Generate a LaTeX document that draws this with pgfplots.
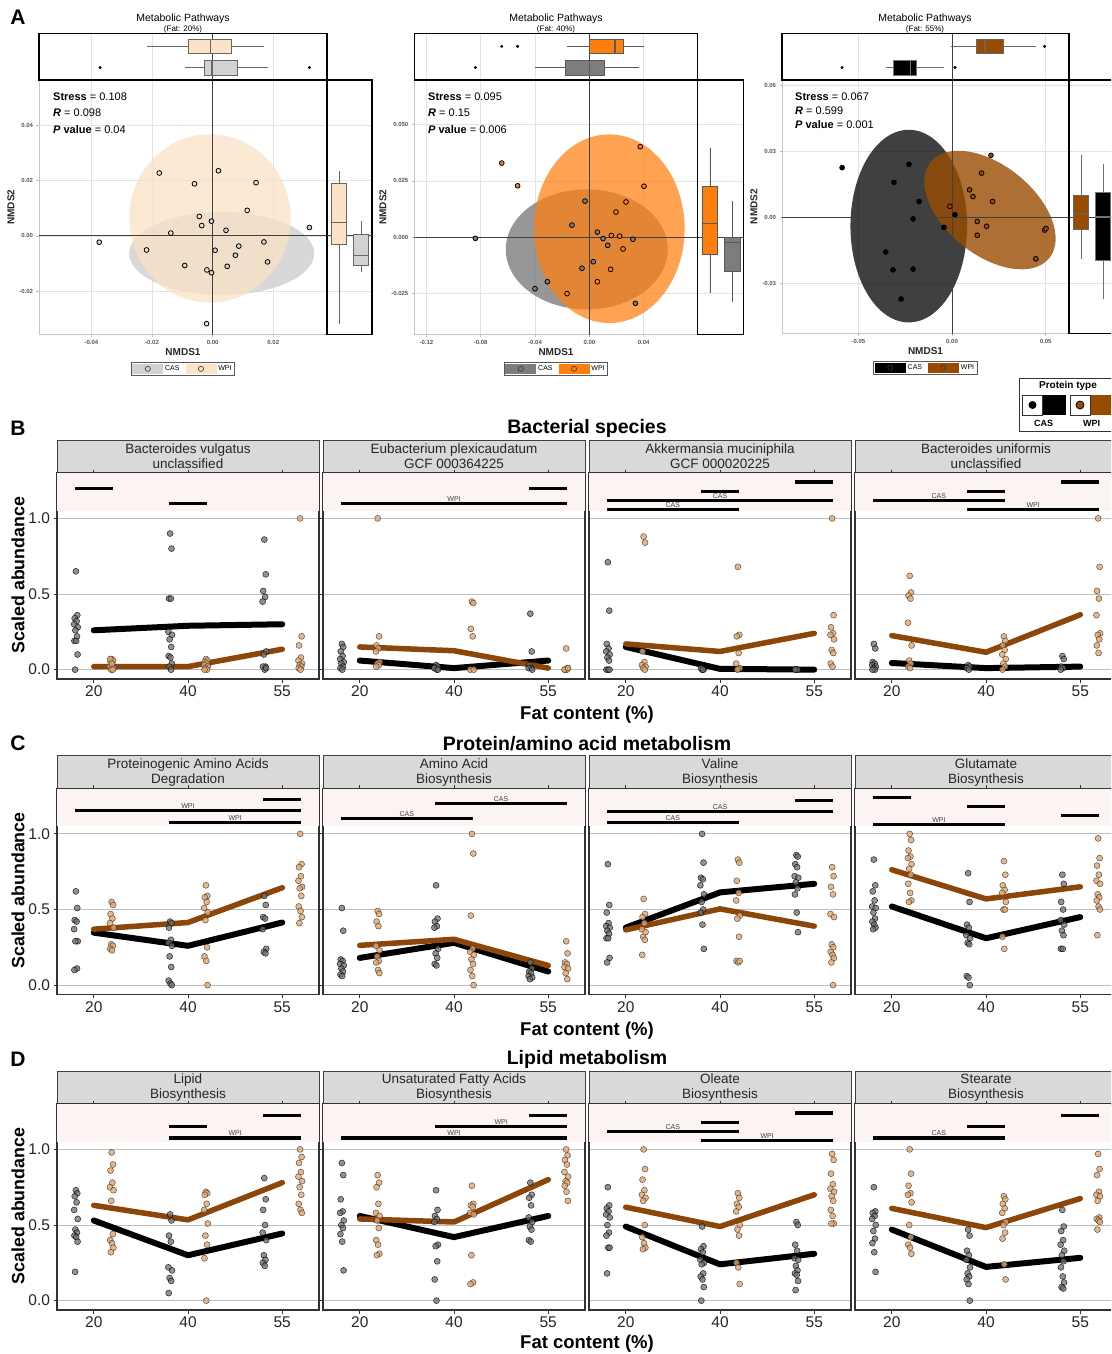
\documentclass[border=0pt]{standalone}
\usepackage{fontspec}
\setmainfont{Liberation Sans}
\usepackage{pgfplots}
\pgfplotsset{compat=1.18}
\usepgfplotslibrary{statistics}
\definecolor{casgrey}{RGB}{110,110,110}
\definecolor{wpitan}{RGB}{228,165,105}
\definecolor{wpiline}{RGB}{140,70,10}
\definecolor{pinkbg}{RGB}{252,243,243}
\definecolor{stripbg}{RGB}{217,217,217}
\definecolor{a1wpi}{RGB}{252,226,198}
\definecolor{a1cas}{RGB}{210,210,210}
\definecolor{a2wpi}{RGB}{255,127,14}
\definecolor{a2cas}{RGB}{125,125,125}
\definecolor{a3wpi}{RGB}{153,76,0}
\newcommand{\fs}[1]{\fontsize{#1}{#1}\selectfont}
\pgfplotsset{
 facet/.style={scale only axis, width=262pt, height=206pt, anchor=north west,
  xmin=0.61, xmax=3.39, ymin=-0.062, ymax=1.30,
  xtick={1,2,3}, xticklabels={20,40,55}, ytick={0,0.5,1}, yticklabels={0.0,0.5,1.0},
  ymajorgrids, major grid style={gray!50, line width=0.9pt},
  axis line style={black!80, line width=1.4pt},
  xtick style={black!80, line width=0.9pt}, ytick style={black!80, line width=0.9pt},
  tick align=outside, major tick length=3.5pt,
  tick label style={font=\fs{15.5}, text=black!85}, clip=false},
 noylab/.style={yticklabels={}, ytick style={draw=none}},
 casL/.style={black, line width=6pt, line cap=round, line join=round},
 wpiL/.style={wpiline, line width=5.5pt, line cap=round, line join=round},
 casP/.style={only marks, mark=*, mark size=3pt, mark options={fill=casgrey, fill opacity=0.75, draw=black, draw opacity=0.8, line width=0.5pt}},
 wpiP/.style={only marks, mark=*, mark size=3pt, mark options={fill=wpitan, fill opacity=0.8, draw=black!80, draw opacity=0.8, line width=0.5pt}},
 sig/.style={black, line width=3.2pt},
 nmds/.style={scale only axis, anchor=north west, axis line style={gray!45, line width=0.8pt},
  scaled x ticks=false, scaled y ticks=false,
  xmajorgrids, ymajorgrids, major grid style={gray!22, line width=0.6pt},
  tick style={gray!55, line width=0.6pt}, tick align=outside, major tick length=2.5pt,
  tick label style={font=\fs{6}\bfseries, text=black!65},
  label style={font=\fs{10}\bfseries, text=black!85},
  xlabel={NMDS1}, ylabel={NMDS2}, xlabel style={yshift=3pt}, ylabel style={yshift=-2pt},
  legend style={at={(0.5,-0.109)}, anchor=north, legend columns=2, draw=black!65, line width=0.8pt, font=\fs{7}, inner sep=1.2pt, /tikz/every even column/.append style={column sep=4pt}},
  legend cell align=left},
 pA/.style={only marks, mark=*, mark size=2.4pt, mark options={draw=black, line width=0.8pt, fill=#1}, forget plot},
 mtop/.style={scale only axis, anchor=north west, height=46.3pt, ymin=0.41, ymax=2.6, ytick=\empty, xticklabels={},
  scaled x ticks=false, scaled y ticks=false,
  xmajorgrids, major grid style={gray!22, line width=0.6pt}, tick style={draw=none},
  axis line style={black, line width=1.3pt}, boxplot/draw direction=x, clip=false},
 mright/.style={scale only axis, anchor=north west, xmin=0.45, xmax=2.5, xtick=\empty, yticklabels={},
  scaled x ticks=false, scaled y ticks=false,
  ymajorgrids, major grid style={gray!22, line width=0.6pt}, tick style={draw=none},
  axis line style={black, line width=1.3pt}, boxplot/draw direction=y, clip=false},
}
\tikzset{strip/.style={draw=black!75, line width=1pt, fill=stripbg, minimum width=262pt, minimum height=33pt, inner sep=0pt, align=center, font=\fontsize{13.5}{15}\selectfont, text=black!85},
 siglab/.style={font=\fs{7}, text=black!75, inner sep=0pt}}
\newcommand{\pink}{\fill[pinkbg] (axis cs:0.61,1.05) rectangle (axis cs:3.39,1.30);}
\newcommand{\sbar}[3]{\addplot[sig] coordinates {(#1,#3)(#2,#3)};}
\newcommand{\slab}[3]{\node[siglab] at (axis cs:#1,#2) {#3};}
\newcommand{\bp}[8]{\addplot[fill=#1, draw=#2, line width=0.6pt, boxplot prepared={draw position=#3, lower whisker=#4, lower quartile=#5, median=#6, upper quartile=#7, upper whisker=#8, box extend=0.7, whisker extend=0, every median/.style={line width=1.3pt}}] coordinates {};}
\newcommand{\lgimg}[2]{\addlegendimage{legend image code/.code={\fill[#1] (0pt,-4.5pt) rectangle (30pt,4.5pt); \draw[black!80, line width=0.6pt, fill=#2] (15pt,0pt) circle (2.6pt);}}}
\newcommand{\outl}[1]{\addplot[only marks, mark=*, mark size=1.3pt, black] coordinates {#1};}
\begin{document}
\begin{tikzpicture}
\useasboundingbox (0,0) rectangle (1111pt,-1354pt);
\clip (0,0) rectangle (1111pt,-1354pt);
\fill[white] (0,0) rectangle (1111pt,-1354pt);

% ================= PANEL A =================
% ---- A1 ----
\begin{axis}[nmds, at={(39pt,-80pt)}, width=288pt, height=254.3pt, xmin=-0.05726, xmax=0.0377, ymin=-0.03554, ymax=0.05626,
 xtick={-0.04,-0.02,0,0.02}, xticklabels={-0.04,-0.02,0.00,0.02}, ytick={-0.02,0,0.02,0.04}, yticklabels={-0.02,0.00,0.02,0.04}]
\fill[a1cas, fill opacity=0.85] (axis cs:0.00298,-0.00637) ellipse [x radius=92.5pt, y radius=41.5pt];
\fill[a1wpi, fill opacity=0.75] (axis cs:-0.00088,0.00628) ellipse [x radius=80.7pt, y radius=84.2pt];
\draw[black!75, line width=0.8pt] (axis cs:-0.1,0) -- (axis cs:0.1,0);
\draw[black!75, line width=0.8pt] (axis cs:0,-0.1) -- (axis cs:0,0.1);
\addplot[pA=a1cas] coordinates {(-0.0374,-0.0023)(0.0319,0.0030)(-0.0092,-0.0107)(0.0048,-0.0110)(0.0008,-0.0052)(0.0086,-0.0037)(0.0169,-0.0022)(0.0075,-0.0070)(0.0181,-0.0094)(-0.0004,-0.0133)(0.0044,0.0020)(-0.0004,0.0053)};
\addplot[pA=a1wpi] coordinates {(-0.0176,0.0227)(0.0019,0.0235)(-0.006,0.0188)(0.0143,0.0192)(0.0114,0.0092)(-0.0044,0.0070)(-0.0036,0.0037)(-0.0138,0.0010)(-0.0218,-0.0051)(-0.0019,-0.0123)(-0.002,-0.0317)};
\lgimg{a1cas}{a1cas}\addlegendentry{CAS}
\lgimg{a1wpi}{a1wpi}\addlegendentry{WPI}
\end{axis}
\begin{axis}[mtop, at={(39pt,-33.7pt)}, width=288pt, xmin=-0.05726, xmax=0.0377, xtick={-0.04,-0.02,0,0.02}]
\draw[black!75, line width=0.8pt] (axis cs:0,0.41) -- (axis cs:0,2.6);
\bp{a1wpi}{black!60}{2}{-0.0218}{-0.0079}{-0.0007}{0.0063}{0.0169}
\bp{a1cas}{black!60}{1}{-0.0091}{-0.0029}{-0.0002}{0.0081}{0.0181}
\outl{(-0.0371,1)(0.0319,1)}
\end{axis}
\begin{axis}[mright, at={(327pt,-80pt)}, width=45pt, height=254.3pt, ymin=-0.03554, ymax=0.05626, ytick={-0.02,0,0.02,0.04}]
\draw[black!75, line width=0.8pt] (axis cs:0.45,0) -- (axis cs:2.5,0);
\bp{a1wpi}{black!60}{1}{-0.0317}{-0.0029}{0.0047}{0.0189}{0.0234}
\bp{a1cas}{black!60}{2}{-0.013}{-0.0108}{-0.007}{0.0004}{0.0053}
\end{axis}

% ---- A2 ----
\begin{axis}[nmds, at={(414.3pt,-80pt)}, width=283.4pt, height=254.3pt, xmin=-0.1289, xmax=0.0798, ymin=-0.0433, ymax=0.0699,
 xtick={-0.12,-0.08,-0.04,0,0.04}, xticklabels={-0.12,-0.08,-0.04,0.00,0.04}, ytick={-0.025,0,0.025,0.05}, yticklabels={-0.025,0.000,0.025,0.050}]
\fill[a2cas, fill opacity=0.8] (axis cs:-0.0019,-0.0055) ellipse [x radius=81pt, y radius=60pt];
\fill[a2wpi, fill opacity=0.72] (axis cs:0.0147,0.0037) ellipse [x radius=75.3pt, y radius=94.3pt];
\draw[black!75, line width=0.8pt] (axis cs:-0.2,0) -- (axis cs:0.2,0);
\draw[black!75, line width=0.8pt] (axis cs:0,-0.1) -- (axis cs:0,0.1);
\addplot[pA=a2cas] coordinates {(-0.0839,-0.0006)(-0.0032,0.016)(-0.0128,0.0053)(0.0059,0.0022)(0.0101,-0.0007)(0.0321,-0.0010)(0.0135,-0.0037)(0.0029,-0.011)(-0.0054,-0.0139)(-0.0309,-0.0199)(-0.04,-0.023)(0.0339,-0.0295)};
\addplot[pA=a2wpi] coordinates {(-0.0645,0.0329)(-0.0528,0.0228)(0.0375,0.0402)(0.0402,0.0226)(0.027,0.0156)(0.0196,0.0111)(0.0162,0.0007)(0.0248,-0.0053)(0.0059,-0.0199)(0.0157,-0.0144)(-0.0164,-0.0252)(0.0223,0.0004)};
\lgimg{a2cas}{a2cas}\addlegendentry{CAS}
\lgimg{a2wpi}{a2wpi}\addlegendentry{WPI}
\end{axis}
\begin{axis}[mtop, at={(414.3pt,-33.7pt)}, width=283.4pt, xmin=-0.1289, xmax=0.0798, xtick={-0.12,-0.08,-0.04,0,0.04}]
\draw[black!75, line width=0.8pt] (axis cs:0,0.41) -- (axis cs:0,2.6);
\bp{a2wpi}{black!65}{2}{-0.0162}{0.0002}{0.0189}{0.0253}{0.0403}
\bp{a2cas}{black!65}{1}{-0.040}{-0.0174}{0.0003}{0.0110}{0.0364}
\outl{(-0.0645,2)(-0.0528,2)(-0.0839,1)}
\end{axis}
\begin{axis}[mright, at={(697.7pt,-80pt)}, width=45.6pt, height=254.3pt, ymin=-0.0433, ymax=0.0699, ytick={-0.025,0,0.025,0.05}]
\draw[black!75, line width=0.8pt] (axis cs:0.45,0) -- (axis cs:2.5,0);
\bp{a2wpi}{black!65}{1}{-0.0251}{-0.0077}{0.0059}{0.0226}{0.0396}
\bp{a2cas}{black!65}{2}{-0.0291}{-0.0154}{-0.0024}{0.0}{0.0159}
\end{axis}

% ---- A3 ----
\begin{axis}[nmds, at={(782pt,-80pt)}, width=287pt, height=253.3pt, xmin=-0.0908, xmax=0.0625, ymin=-0.0529, ymax=0.0624,
 xtick={-0.05,0,0.05}, xticklabels={-0.05,0.00,0.05}, ytick={-0.03,0,0.03,0.06}, yticklabels={-0.03,0.00,0.03,0.06}]
\fill[black, fill opacity=0.75] (axis cs:-0.0231,-0.0041) ellipse [x radius=58.3pt, y radius=96.3pt];
\fill[a3wpi, fill opacity=0.8, rotate around={-39:(axis cs:0.0203,0.0032)}] (axis cs:0.0203,0.0032) ellipse [x radius=76.3pt, y radius=44.7pt];
\draw[black!75, line width=0.8pt] (axis cs:-0.2,0) -- (axis cs:0.2,0);
\draw[black!75, line width=0.8pt] (axis cs:0,-0.1) -- (axis cs:0,0.1);
\addplot[pA=black] coordinates {(-0.0587,0.0225)(-0.023,0.024)(-0.031,0.0158)(-0.0176,0.0071)(-0.0208,-0.0008)(-0.0043,-0.0047)(0.0016,0.0011)(-0.0354,-0.0159)(-0.0315,-0.024)(-0.0208,-0.0237)(-0.0272,-0.0373)};
\addplot[pA=a3wpi] coordinates {(0.0208,0.0281)(0.0158,0.02)(0.0094,0.0124)(0.0112,0.0093)(0.0217,0.0071)(-0.0011,0.0049)(0.0135,-0.002)(0.0185,-0.0042)(0.0135,-0.0083)(0.0495,-0.0059)(0.0502,-0.0052)(0.0448,-0.019)};
\lgimg{black}{black}\addlegendentry{CAS}
\lgimg{a3wpi}{a3wpi}\addlegendentry{WPI}
\end{axis}
\begin{axis}[mtop, at={(782pt,-33.7pt)}, width=287pt, xmin=-0.0908, xmax=0.0625, xtick={-0.05,0,0.05}]
\draw[black!75, line width=0.8pt] (axis cs:0,0.41) -- (axis cs:0,2.6);
\bp{a3wpi}{black!60}{2}{-0.0007}{0.013}{0.0176}{0.0276}{0.0448}
\bp{black}{black!55}{1}{-0.0352}{-0.0313}{-0.0222}{-0.0192}{-0.0044}
\outl{(0.0495,2)(-0.0587,1)(0.0016,1)}
\end{axis}
\begin{axis}[mright, at={(1069pt,-80pt)}, width=45pt, height=253.3pt, ymin=-0.0529, ymax=0.0624, ytick={-0.03,0,0.03,0.06}]
\draw[black!75, line width=0.8pt] (axis cs:0.45,0) -- (axis cs:2.5,0);
\bp{a3wpi}{black!60}{1}{-0.019}{-0.0056}{0.0017}{0.01}{0.0281}
\bp{black}{black!55}{2}{-0.0373}{-0.0196}{0.0}{0.0112}{0.024}
\end{axis}

% A texts
\node[font=\fs{21}\bfseries] at (18pt,-17pt) {A};
\node[font=\fs{10.5}] at (183pt,-19pt) {Metabolic Pathways};
\node[font=\fs{8}] at (183pt,-29.5pt) {(Fat: 20\%)};
\node[font=\fs{10.5}] at (556pt,-19pt) {Metabolic Pathways};
\node[font=\fs{8}] at (556pt,-29.5pt) {(Fat: 40\%)};
\node[font=\fs{10.5}] at (925pt,-19pt) {Metabolic Pathways};
\node[font=\fs{8}] at (925pt,-29.5pt) {(Fat: 55\%)};
\begin{scope}[every node/.style={anchor=west, font=\fs{11}, inner sep=0pt}]
\node at (53pt,-97pt) {\textbf{Stress} = 0.108};
\node at (53pt,-113pt) {\textbf{\textit{R}} = 0.098};
\node at (53pt,-129.5pt) {\textbf{\textit{P} value} = 0.04};
\node at (428pt,-97pt) {\textbf{Stress} = 0.095};
\node at (428pt,-113pt) {\textbf{\textit{R}} = 0.15};
\node at (428pt,-129.5pt) {\textbf{\textit{P} value} = 0.006};
\node at (795pt,-97pt) {\textbf{Stress} = 0.067};
\node at (795pt,-111pt) {\textbf{\textit{R}} = 0.599};
\node at (795pt,-125pt) {\textbf{\textit{P} value} = 0.001};
\end{scope}
% Protein type legend
\draw[black!80, line width=1pt] (1019pt,-378pt) rectangle (1130pt,-431pt);
\node[font=\fs{10}\bfseries] at (1068pt,-385.5pt) {Protein type};
\fill[black] (1042.5pt,-395pt) rectangle (1065.5pt,-415pt);
\draw[black!80, fill=white, line width=0.8pt] (1022.5pt,-395pt) rectangle (1042.5pt,-415pt);
\fill[black] (1032.5pt,-405pt) circle (4pt);
\fill[a3wpi] (1090pt,-395pt) rectangle (1125pt,-415pt);
\draw[black!80, fill=white, line width=0.8pt] (1070pt,-395pt) rectangle (1090pt,-415pt);
\draw[black, fill=a3wpi, line width=0.8pt] (1080pt,-405pt) circle (4pt);
\node[font=\fs{9}\bfseries] at (1043.5pt,-423.5pt) {CAS};
\node[font=\fs{9}\bfseries] at (1091.7pt,-423.5pt) {WPI};

% ================= PANEL B =================
\node[font=\fs{21}\bfseries] at (18pt,-428pt) {B};
\node[font=\fs{19.5}\bfseries] at (587pt,-428pt) {Bacterial species};
\node[font=\fs{17.8}\bfseries, rotate=90] at (18pt,-575pt) {Scaled abundance};
\node[font=\fs{18.5}\bfseries] at (587pt,-715pt) {Fat content (\%)};
\node[strip] at (188pt,-456.5pt) {Bacteroides vulgatus\\unclassified};
\node[strip] at (454pt,-456.5pt) {Eubacterium plexicaudatum\\GCF 000364225};
\node[strip] at (720pt,-456.5pt) {Akkermansia muciniphila\\GCF 000020225};
\node[strip] at (986pt,-456.5pt) {Bacteroides uniformis\\unclassified};

\begin{axis}[facet, at={(57pt,-473pt)}]
\pink
\addplot[casL] coordinates {(1,.26)(2,.29)(3,.30)};
\addplot[wpiL] coordinates {(1,.02)(2,.02)(3,.135)};
\addplot[casP] coordinates {(.810,.65)(.825,.36)(.798,.34)(.818,.32)(.792,.30)(.830,.28)(.805,.26)(.822,.22)(.795,.19)(.814,.19)(.828,.10)(.802,0)
(1.810,.90)(1.825,.80)(1.798,.47)(1.818,.47)(1.792,.25)(1.830,.23)(1.805,.20)(1.822,.15)(1.795,.09)(1.814,.08)(1.828,.04)(1.802,.02)(1.820,0)
(2.810,.86)(2.825,.63)(2.798,.52)(2.818,.48)(2.792,.45)(2.830,.12)(2.805,.10)(2.822,.02)(2.795,.02)(2.814,0)(2.828,.01)};
\addplot[wpiP] coordinates {(1.190,.07)(1.205,.06)(1.178,.05)(1.198,.03)(1.172,.02)(1.210,.01)(1.185,0)(1.202,0)(1.175,.07)(1.194,.04)
(2.190,.07)(2.205,.06)(2.178,.05)(2.198,.04)(2.172,.03)(2.210,.02)(2.185,.01)(2.202,0)(2.175,0)
(3.190,1)(3.205,.22)(3.178,.16)(3.198,.08)(3.172,.06)(3.210,.04)(3.185,.03)(3.202,.02)(3.175,.01)(3.194,0)};
\sbar{0.8}{1.2}{1.2}\sbar{1.8}{2.2}{1.1}
\end{axis}
\begin{axis}[facet, noylab, at={(323pt,-473pt)}]
\pink
\addplot[casL] coordinates {(1,.06)(2,.01)(3,.06)};
\addplot[wpiL] coordinates {(1,.15)(2,.125)(3,.01)};
\addplot[casP] coordinates {(.810,.17)(.825,.15)(.798,.12)(.818,.09)(.792,.07)(.830,.05)(.805,.04)(.822,.02)(.795,.01)(.814,0)
(1.810,.03)(1.825,.02)(1.798,.01)(1.818,0)(1.792,.01)(1.830,0)
(2.810,.37)(2.825,.12)(2.798,.03)(2.818,.01)(2.792,.01)(2.830,0)};
\addplot[wpiP] coordinates {(1.190,1)(1.205,.22)(1.178,.16)(1.198,.14)(1.172,.12)(1.210,.05)(1.185,.04)(1.202,.03)(1.175,.02)
(2.190,.45)(2.205,.44)(2.178,.27)(2.198,.22)(2.172,0)(2.210,0)
(3.190,.14)(3.205,.01)(3.178,0)(3.198,0)(3.172,0)(3.210,.01)};
\sbar{0.8}{3.2}{1.1}\slab{2}{1.13}{WPI}\sbar{2.8}{3.2}{1.2}
\end{axis}
\begin{axis}[facet, noylab, at={(589pt,-473pt)}]
\pink
\addplot[casL] coordinates {(1,.15)(2,.005)(3,0)};
\addplot[wpiL] coordinates {(1,.17)(2,.12)(3,.24)};
\addplot[casP] coordinates {(.810,.71)(.825,.39)(.798,.17)(.818,.14)(.792,.12)(.830,.10)(.805,.08)(.822,.06)(.795,0)(.814,0)(.828,0)
(1.810,0)(1.825,0)(1.798,.01)(1.818,0)
(2.810,0)(2.825,0)(2.798,0)};
\addplot[wpiP] coordinates {(1.190,.88)(1.205,.84)(1.178,.12)(1.198,.05)(1.172,.03)(1.210,.02)(1.185,.01)(1.202,0)
(2.190,.68)(2.205,.23)(2.178,.22)(2.198,.11)(2.172,.04)(2.210,.01)(2.185,0)
(3.190,1)(3.205,.36)(3.178,.28)(3.198,.24)(3.172,.23)(3.210,.20)(3.185,.13)(3.202,.11)(3.175,.04)(3.194,.02)};
\sbar{2.8}{3.2}{1.24}\sbar{1.8}{2.2}{1.18}\sbar{0.8}{3.2}{1.12}\slab{2}{1.15}{CAS}\sbar{0.8}{2.2}{1.06}\slab{1.5}{1.09}{CAS}
\end{axis}
\begin{axis}[facet, noylab, at={(855pt,-473pt)}]
\pink
\addplot[casL] coordinates {(1,.044)(2,.01)(3,.02)};
\addplot[wpiL] coordinates {(1,.225)(2,.115)(3,.363)};
\addplot[casP] coordinates {(.810,.17)(.825,.14)(.798,.05)(.818,.04)(.792,.03)(.830,.02)(.805,.01)(.822,0)(.795,0)
(1.810,.03)(1.825,.02)(1.798,.01)(1.818,0)
(2.810,.09)(2.825,.07)(2.798,.02)(2.818,.01)(2.792,0)};
\addplot[wpiP] coordinates {(1.190,.62)(1.205,.51)(1.178,.49)(1.198,.47)(1.172,.31)(1.210,.16)(1.185,.06)(1.202,.04)(1.175,.02)(1.194,.01)
(2.190,.22)(2.205,.19)(2.178,.16)(2.198,.13)(2.172,.10)(2.210,.07)(2.185,.04)(2.202,.02)(2.175,0)
(3.190,1)(3.205,.68)(3.178,.52)(3.198,.47)(3.172,.36)(3.210,.24)(3.185,.23)(3.202,.20)(3.175,.16)(3.194,.11)};
\sbar{2.8}{3.2}{1.24}\sbar{1.8}{2.2}{1.18}\sbar{0.8}{2.2}{1.12}\slab{1.5}{1.15}{CAS}\sbar{1.8}{3.2}{1.06}\slab{2.5}{1.09}{WPI}
\end{axis}

% ================= PANEL C =================
\node[font=\fs{21}\bfseries] at (18pt,-743.5pt) {C};
\node[font=\fs{19.5}\bfseries] at (587pt,-743.5pt) {Protein/amino acid metabolism};
\node[font=\fs{17.8}\bfseries, rotate=90] at (18pt,-890.5pt) {Scaled abundance};
\node[font=\fs{18.5}\bfseries] at (587pt,-1030.5pt) {Fat content (\%)};
\node[strip] at (188pt,-772pt) {Proteinogenic Amino Acids\\Degradation};
\node[strip] at (454pt,-772pt) {Amino Acid\\Biosynthesis};
\node[strip] at (720pt,-772pt) {Valine\\Biosynthesis};
\node[strip] at (986pt,-772pt) {Glutamate\\Biosynthesis};

\begin{axis}[facet, at={(57pt,-788.5pt)}]
\pink
\addplot[casL] coordinates {(1,.347)(2,.26)(3,.414)};
\addplot[wpiL] coordinates {(1,.37)(2,.414)(3,.644)};
\addplot[casP] coordinates {(.810,.62)(.825,.51)(.798,.43)(.818,.42)(.792,.37)(.830,.29)(.805,.29)(.822,.11)(.795,.10)
(1.810,.42)(1.825,.41)(1.798,.38)(1.818,.30)(1.792,.28)(1.830,.26)(1.805,.19)(1.822,.12)(1.795,.03)(1.814,.01)(1.828,0)
(2.810,.59)(2.825,.53)(2.798,.45)(2.818,.44)(2.792,.37)(2.830,.24)(2.805,.22)(2.822,.21)};
\addplot[wpiP] coordinates {(1.190,.55)(1.205,.53)(1.178,.47)(1.198,.44)(1.172,.41)(1.210,.38)(1.185,.27)(1.202,.26)(1.175,.24)(1.194,.23)
(2.190,.66)(2.205,.59)(2.178,.58)(2.198,.55)(2.172,.51)(2.210,.48)(2.185,.43)(2.202,.25)(2.175,.19)(2.194,.16)(2.208,0)
(3.190,1)(3.205,.80)(3.178,.78)(3.198,.72)(3.172,.69)(3.210,.65)(3.185,.64)(3.202,.59)(3.175,.52)(3.194,.49)(3.208,.45)(3.182,.41)};
\sbar{2.8}{3.2}{1.228}\sbar{0.8}{3.2}{1.155}\slab{2}{1.185}{WPI}\sbar{1.8}{3.2}{1.075}\slab{2.5}{1.105}{WPI}
\end{axis}
\begin{axis}[facet, noylab, at={(323pt,-788.5pt)}]
\pink
\addplot[casL] coordinates {(1,.18)(2,.28)(3,.09)};
\addplot[wpiL] coordinates {(1,.263)(2,.303)(3,.13)};
\addplot[casP] coordinates {(.810,.51)(.825,.36)(.798,.17)(.818,.16)(.792,.14)(.830,.13)(.805,.11)(.822,.09)(.795,.07)(.814,.06)
(1.810,.66)(1.825,.44)(1.798,.42)(1.818,.39)(1.792,.38)(1.830,.24)(1.805,.21)(1.822,.18)(1.795,.14)(1.814,.13)
(2.810,.15)(2.825,.11)(2.798,.09)(2.818,.08)(2.792,.06)(2.830,.05)(2.805,.04)};
\addplot[wpiP] coordinates {(1.190,.49)(1.205,.47)(1.178,.42)(1.198,.39)(1.172,.26)(1.210,.23)(1.185,.19)(1.202,.16)(1.175,.15)(1.194,.10)(1.208,.08)
(2.190,1)(2.205,.87)(2.178,.46)(2.198,.24)(2.172,.22)(2.210,.20)(2.185,.17)(2.202,.14)(2.175,.10)(2.194,.06)(2.208,0)
(3.190,.29)(3.205,.21)(3.178,.15)(3.198,.14)(3.172,.12)(3.210,.11)(3.185,.08)(3.202,.04)};
\sbar{1.8}{3.2}{1.20}\slab{2.5}{1.23}{CAS}\sbar{0.8}{2.2}{1.10}\slab{1.5}{1.13}{CAS}
\end{axis}
\begin{axis}[facet, noylab, at={(589pt,-788.5pt)}]
\pink
\addplot[casL] coordinates {(1,.38)(2,.613)(3,.67)};
\addplot[wpiL] coordinates {(1,.365)(2,.504)(3,.39)};
\addplot[casP] coordinates {(.810,.80)(.825,.53)(.798,.48)(.818,.41)(.792,.39)(.830,.38)(.805,.36)(.822,.34)(.795,.31)(.814,.31)(.828,.18)(.802,.15)
(1.810,1)(1.825,.81)(1.798,.71)(1.818,.70)(1.792,.66)(1.830,.60)(1.805,.55)(1.822,.50)(1.795,.48)(1.814,.40)(1.828,.24)
(2.810,.86)(2.825,.85)(2.798,.80)(2.818,.78)(2.792,.72)(2.830,.71)(2.805,.68)(2.822,.64)(2.795,.60)(2.814,.48)(2.828,.35)};
\addplot[wpiP] coordinates {(1.190,.57)(1.205,.47)(1.178,.45)(1.198,.41)(1.172,.37)(1.210,.35)(1.185,.32)(1.202,.30)(1.175,.20)
(2.190,.83)(2.205,.81)(2.178,.69)(2.198,.61)(2.172,.56)(2.210,.46)(2.185,.44)(2.202,.32)(2.175,.16)(2.194,.15)(2.208,.16)
(3.190,.78)(3.205,.72)(3.178,.65)(3.198,.60)(3.172,.47)(3.210,.45)(3.185,.27)(3.202,.25)(3.175,.22)(3.194,.20)(3.208,.18)(3.182,.15)(3.200,0)};
\sbar{2.8}{3.2}{1.22}\sbar{0.8}{3.2}{1.15}\slab{2}{1.18}{CAS}\sbar{0.8}{2.2}{1.075}\slab{1.5}{1.105}{CAS}
\end{axis}
\begin{axis}[facet, noylab, at={(855pt,-788.5pt)}]
\pink
\addplot[casL] coordinates {(1,.52)(2,.31)(3,.45)};
\addplot[wpiL] coordinates {(1,.763)(2,.57)(3,.65)};
\addplot[casP] coordinates {(.810,.83)(.825,.66)(.798,.62)(.818,.56)(.792,.52)(.830,.51)(.805,.48)(.822,.44)(.795,.42)(.814,.40)(.828,.38)(.802,.37)
(1.810,.74)(1.825,.55)(1.798,.40)(1.818,.38)(1.792,.33)(1.830,.31)(1.805,.28)(1.822,.27)(1.795,.06)(1.814,.05)(1.828,0)
(2.810,.73)(2.825,.67)(2.798,.55)(2.818,.50)(2.792,.43)(2.830,.40)(2.805,.36)(2.822,.33)(2.795,.24)(2.814,.24)};
\addplot[wpiP] coordinates {(1.190,1)(1.205,.96)(1.178,.89)(1.198,.85)(1.172,.84)(1.210,.80)(1.185,.77)(1.202,.73)(1.175,.67)(1.194,.61)(1.208,.56)(1.182,.55)
(2.190,.82)(2.205,.73)(2.178,.66)(2.198,.63)(2.172,.61)(2.210,.55)(2.185,.50)(2.202,.50)(2.175,.32)(2.194,.24)
(3.190,.97)(3.205,.84)(3.178,.79)(3.198,.73)(3.172,.69)(3.210,.67)(3.185,.60)(3.202,.58)(3.175,.56)(3.194,.52)(3.208,.50)(3.182,.33)};
\sbar{0.8}{1.2}{1.24}\sbar{1.8}{2.2}{1.18}\sbar{2.8}{3.2}{1.12}\sbar{0.8}{2.2}{1.06}\slab{1.5}{1.09}{WPI}
\end{axis}

% ================= PANEL D =================
\node[font=\fs{21}\bfseries] at (18pt,-1059pt) {D};
\node[font=\fs{19.5}\bfseries] at (587pt,-1059pt) {Lipid metabolism};
\node[font=\fs{17.8}\bfseries, rotate=90] at (18pt,-1206pt) {Scaled abundance};
\node[font=\fs{18.5}\bfseries] at (587pt,-1344pt) {Fat content (\%)};
\node[strip] at (188pt,-1087.5pt) {Lipid\\Biosynthesis};
\node[strip] at (454pt,-1087.5pt) {Unsaturated Fatty Acids\\Biosynthesis};
\node[strip] at (720pt,-1087.5pt) {Oleate\\Biosynthesis};
\node[strip] at (986pt,-1087.5pt) {Stearate\\Biosynthesis};

\begin{axis}[facet, at={(57pt,-1104pt)}]
\pink
\addplot[casL] coordinates {(1,.53)(2,.30)(3,.444)};
\addplot[wpiL] coordinates {(1,.63)(2,.534)(3,.78)};
\addplot[casP] coordinates {(.810,.73)(.825,.71)(.798,.69)(.818,.65)(.792,.60)(.830,.54)(.805,.47)(.822,.45)(.795,.43)(.814,.42)(.828,.39)(.802,.19)
(1.810,.57)(1.825,.53)(1.798,.43)(1.818,.39)(1.792,.22)(1.830,.20)(1.805,.15)(1.822,.13)(1.795,.05)
(2.810,.81)(2.825,.67)(2.798,.60)(2.818,.50)(2.792,.45)(2.830,.40)(2.805,.30)(2.822,.27)(2.795,.25)(2.814,.23)};
\addplot[wpiP] coordinates {(1.190,.98)(1.205,.90)(1.178,.86)(1.198,.78)(1.172,.75)(1.210,.73)(1.185,.66)(1.202,.44)(1.175,.40)(1.194,.38)(1.208,.35)(1.182,.32)
(2.190,.72)(2.205,.71)(2.178,.70)(2.198,.64)(2.172,.60)(2.210,.51)(2.185,.43)(2.202,.37)(2.175,.28)(2.194,0)
(3.190,1)(3.205,.95)(3.178,.91)(3.198,.85)(3.172,.82)(3.210,.79)(3.185,.75)(3.202,.70)(3.175,.64)(3.194,.60)(3.208,.58)};
\sbar{2.8}{3.2}{1.225}\sbar{1.8}{2.2}{1.15}\sbar{1.8}{3.2}{1.075}\slab{2.5}{1.105}{WPI}
\end{axis}
\begin{axis}[facet, noylab, at={(323pt,-1104pt)}]
\pink
\addplot[casL] coordinates {(1,.56)(2,.42)(3,.56)};
\addplot[wpiL] coordinates {(1,.54)(2,.52)(3,.80)};
\addplot[casP] coordinates {(.810,.91)(.825,.83)(.798,.67)(.818,.59)(.792,.58)(.830,.53)(.805,.50)(.822,.48)(.795,.44)(.814,.39)(.828,.20)
(1.810,.73)(1.825,.60)(1.798,.56)(1.818,.54)(1.792,.52)(1.830,.37)(1.805,.36)(1.822,.26)(1.795,.14)(1.814,0)
(2.810,.78)(2.825,.70)(2.798,.68)(2.818,.63)(2.792,.55)(2.830,.52)(2.805,.49)(2.822,.47)(2.795,.40)(2.814,.39)};
\addplot[wpiP] coordinates {(1.190,.83)(1.205,.78)(1.178,.75)(1.198,.64)(1.172,.58)(1.210,.56)(1.185,.53)(1.202,.48)(1.175,.40)(1.194,.37)(1.208,.31)(1.182,.30)
(2.190,.76)(2.205,.64)(2.178,.63)(2.198,.62)(2.172,.58)(2.210,.57)(2.185,.30)(2.202,.12)(2.175,.11)
(3.190,1)(3.205,.96)(3.178,.93)(3.198,.90)(3.172,.85)(3.210,.82)(3.185,.79)(3.202,.78)(3.175,.76)(3.194,.72)(3.208,.66)};
\sbar{2.8}{3.2}{1.225}\sbar{1.8}{3.2}{1.15}\slab{2.5}{1.18}{WPI}\sbar{0.8}{3.2}{1.075}\slab{2}{1.105}{WPI}
\end{axis}
\begin{axis}[facet, noylab, at={(589pt,-1104pt)}]
\pink
\addplot[casL] coordinates {(1,.49)(2,.24)(3,.31)};
\addplot[wpiL] coordinates {(1,.618)(2,.49)(3,.70)};
\addplot[casP] coordinates {(.810,.75)(.825,.63)(.798,.61)(.818,.59)(.792,.57)(.830,.55)(.805,.50)(.822,.45)(.795,.43)(.814,.35)(.828,.35)(.802,.18)
(1.810,.49)(1.825,.36)(1.798,.34)(1.818,.32)(1.792,.27)(1.830,.25)(1.805,.24)(1.822,.18)(1.795,.16)(1.814,.14)(1.828,.09)(1.802,0)
(2.810,.52)(2.825,.50)(2.798,.37)(2.818,.33)(2.792,.28)(2.830,.27)(2.805,.23)(2.822,.20)(2.795,.18)(2.814,.17)(2.828,.13)(2.802,.07)};
\addplot[wpiP] coordinates {(1.190,1)(1.205,.87)(1.178,.80)(1.198,.73)(1.172,.70)(1.210,.68)(1.185,.66)(1.202,.50)(1.175,.42)(1.194,.38)(1.208,.35)(1.182,.34)
(2.190,.71)(2.205,.68)(2.178,.64)(2.198,.62)(2.172,.59)(2.210,.50)(2.185,.47)(2.202,.43)(2.175,.25)(2.194,.22)(2.208,.11)
(3.190,.97)(3.205,.93)(3.178,.84)(3.198,.77)(3.172,.74)(3.210,.72)(3.185,.69)(3.202,.66)(3.175,.60)(3.194,.56)(3.208,.51)(3.182,.51)};
\sbar{2.8}{3.2}{1.24}\sbar{1.8}{2.2}{1.18}\sbar{0.8}{2.2}{1.12}\slab{1.5}{1.15}{CAS}\sbar{1.8}{3.2}{1.06}\slab{2.5}{1.09}{WPI}
\end{axis}
\begin{axis}[facet, noylab, at={(855pt,-1104pt)}]
\pink
\addplot[casL] coordinates {(1,.47)(2,.223)(3,.283)};
\addplot[wpiL] coordinates {(1,.61)(2,.483)(3,.675)};
\addplot[casP] coordinates {(.810,.75)(.825,.59)(.798,.58)(.818,.56)(.792,.54)(.830,.50)(.805,.46)(.822,.41)(.795,.38)(.814,.32)(.828,.19)
(1.810,.47)(1.825,.43)(1.798,.33)(1.818,.30)(1.792,.27)(1.830,.22)(1.805,.18)(1.822,.16)(1.795,.14)(1.814,.11)(1.828,0)
(2.810,.60)(2.825,.49)(2.798,.46)(2.818,.40)(2.792,.37)(2.830,.33)(2.805,.30)(2.822,.26)(2.795,.22)(2.814,.16)(2.828,.12)(2.802,.09)(2.820,.08)};
\addplot[wpiP] coordinates {(1.190,1)(1.205,.84)(1.178,.76)(1.198,.71)(1.172,.70)(1.210,.65)(1.185,.50)(1.202,.42)(1.175,.37)(1.194,.35)(1.208,.31)
(2.190,.69)(2.205,.67)(2.178,.64)(2.198,.61)(2.172,.58)(2.210,.52)(2.185,.50)(2.202,.45)(2.175,.41)(2.194,.24)(2.208,.14)
(3.190,.97)(3.205,.87)(3.178,.83)(3.198,.72)(3.172,.70)(3.210,.69)(3.185,.66)(3.202,.55)(3.175,.54)(3.194,.53)(3.208,.52)(3.182,.47)};
\sbar{2.8}{3.2}{1.225}\sbar{1.8}{2.2}{1.15}\sbar{0.8}{2.2}{1.075}\slab{1.5}{1.105}{CAS}
\end{axis}
\end{tikzpicture}
\end{document}
